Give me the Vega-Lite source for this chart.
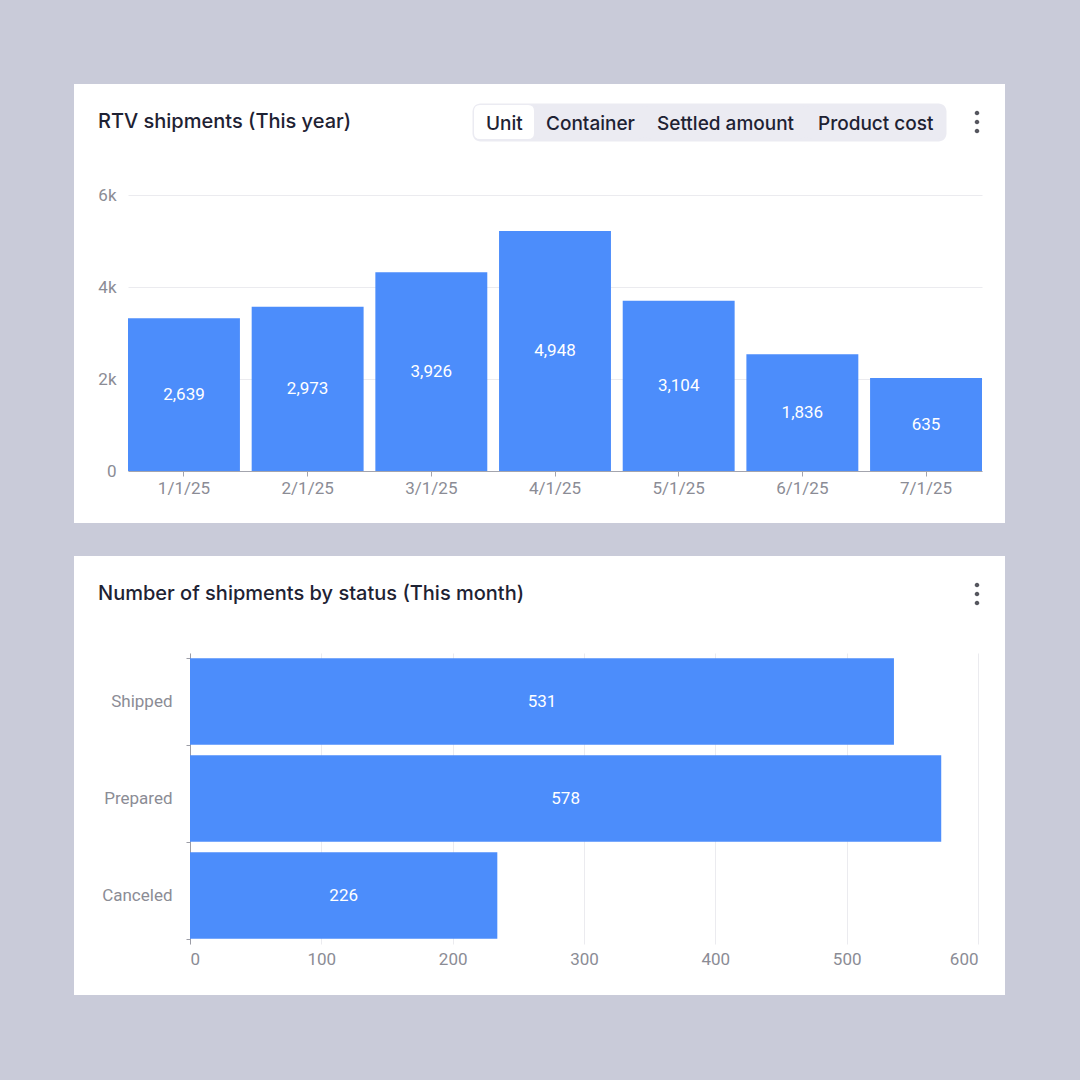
{
  "$schema": "https://vega.github.io/schema/vega-lite/v6.json",
  "background": "#c9cbd9",
  "padding": {"left": 74, "top": 84, "right": 75, "bottom": 85},
  "spacing": 24,
  "resolve": {"scale": {"shape": "independent", "fill": "independent"}, "legend": {"shape": "independent", "fill": "independent"}},
  "config": {
    "view": {"fill": "#ffffff", "stroke": null},
    "font": "Roboto",
    "title": {"font": "Inter", "fontSize": 20, "fontWeight": 500, "color": "#1e2233", "anchor": "start", "frame": "group", "baseline": "alphabetic", "offset": -48, "dx": 24},
    "axis": {"labelFont": "Roboto", "labelFontSize": 17, "labelColor": "#8b8c95"}
  },
  "vconcat": [
    {
      "width": 931,
      "height": 439,
      "view": {"fill": "#ffffff", "stroke": null},
      "title": "RTV shipments (This year)",
      "data": {"values": [
        {"month": "1/1/25", "value": 3320, "label": "2,639"},
        {"month": "2/1/25", "value": 3570, "label": "2,973"},
        {"month": "3/1/25", "value": 4320, "label": "3,926"},
        {"month": "4/1/25", "value": 5220, "label": "4,948"},
        {"month": "5/1/25", "value": 3700, "label": "3,104"},
        {"month": "6/1/25", "value": 2540, "label": "1,836"},
        {"month": "7/1/25", "value": 2020, "label": "635"}
      ]},
      "resolve": {"scale": {"y": "independent", "shape": "independent"}},
      "layer": [
        {
          "mark": {"type": "bar", "color": "#4c8dfb"},
          "encoding": {
            "x": {"field": "month", "type": "nominal", "sort": null, "title": null,
              "scale": {"range": [54, 908], "paddingInner": 0.095, "paddingOuter": 0},
              "axis": {"orient": "bottom", "offset": -52, "labelAngle": 0, "domainColor": "#a3a4ad", "tickColor": "#a3a4ad", "tickSize": 5, "labelPadding": 4, "grid": false}},
            "y": {"field": "value", "type": "quantitative", "title": null,
              "scale": {"domain": [0, 6000], "range": [387, 111], "nice": false},
              "axis": {"orient": "left", "offset": -54, "values": [0, 2000, 4000, 6000], "labelExpr": "datum.value === 0 ? '0' : (datum.value / 1000) + 'k'", "domain": false, "ticks": false, "tickSize": 0, "labelPadding": 12, "grid": true, "gridColor": "#ebebef"}}
          }
        },
        {
          "mark": {"type": "text", "color": "#ffffff", "fontSize": 17, "baseline": "middle"},
          "encoding": {
            "x": {"field": "month", "type": "nominal", "sort": null},
            "y": {"field": "value", "type": "quantitative", "scale": {"domain": [0, 12000], "range": [387, 111], "nice": false}, "axis": null},
            "text": {"field": "label"}
          }
        },
        {
          "data": {"values": [{"option": "Unit"}, {"option": "Container"}, {"option": "Settled amount"}, {"option": "Product cost"}]},
          "mark": {"type": "point", "filled": true, "size": 0},
          "encoding": {
            "fill": {"field": "option", "type": "nominal",
              "scale": {"domain": ["Unit", "Container", "Settled amount", "Product cost"], "range": ["#ffffff", "#ebebf2", "#ebebf2", "#ebebf2"]},
              "legend": null},
            "shape": {"field": "option", "type": "nominal",
              "scale": {"domain": ["Unit", "Container", "Settled amount", "Product cost"], "range": [
                "M-3.5,-9.5H44.5Q50.5,-9.5 50.5,-3.5V18.5Q50.5,24.5 44.5,24.5H-3.5Q-9.5,24.5 -9.5,18.5V-3.5Q-9.5,-9.5 -3.5,-9.5Z",
                "M-3.5,-9.5H95.5Q101.5,-9.5 101.5,-3.5V18.5Q101.5,24.5 95.5,24.5H-3.5Q-9.5,24.5 -9.5,18.5V-3.5Q-9.5,-9.5 -3.5,-9.5Z",
                "M-3.5,-9.5H145.5Q151.5,-9.5 151.5,-3.5V18.5Q151.5,24.5 145.5,24.5H-3.5Q-9.5,24.5 -9.5,18.5V-3.5Q-9.5,-9.5 -3.5,-9.5Z",
                "M-3.5,-9.5H122.5Q128.5,-9.5 128.5,-3.5V18.5Q128.5,24.5 122.5,24.5H-3.5Q-9.5,24.5 -9.5,18.5V-3.5Q-9.5,-9.5 -3.5,-9.5Z"]},
              "legend": {"orient": "none", "legendX": 398, "legendY": 19, "direction": "horizontal", "title": null, "padding": 2, "fillColor": "#ebebf2", "cornerRadius": 8, "strokeColor": "transparent", "symbolSize": 4, "symbolStrokeWidth": 0, "symbolStrokeColor": "transparent", "symbolFillColor": {"expr": "datum.value === 'Unit' ? '#ffffff' : '#ebebf2'"}, "symbolOpacity": 1, "labelOffset": -7, "labelBaseline": "top", "columnPadding": 0, "labelFont": "Inter", "labelFontSize": 19, "labelFontWeight": 500, "labelColor": "#1e2233", "labelLimit": 300}}
          }
        },
        {
          "data": {"values": [{"menu": "more"}]},
          "mark": {"type": "point", "filled": true, "size": 0, "color": "#55565e"},
          "encoding": {
            "shape": {"field": "menu", "type": "nominal",
              "scale": {"domain": ["more"], "range": ["M-2.3,-9A2.3,2.3,0,1,0,2.3,-9A2.3,2.3,0,1,0,-2.3,-9ZM-2.3,0A2.3,2.3,0,1,0,2.3,0A2.3,2.3,0,1,0,-2.3,0ZM-2.3,9A2.3,2.3,0,1,0,2.3,9A2.3,2.3,0,1,0,-2.3,9Z"]},
              "legend": {"orient": "none", "legendX": 902, "legendY": 37, "title": null, "padding": 0, "symbolSize": 4, "symbolStrokeWidth": 0, "symbolOpacity": 1, "labelExpr": "''", "labelFontSize": 1, "labelOffset": 0}}
          }
        }
      ]
    },
    {
      "width": 931,
      "height": 439,
      "view": {"fill": "#ffffff", "stroke": null},
      "title": {"text": "Number of shipments by status (This month)", "offset": -57},
      "data": {"values": [
        {"status": "Shipped", "value": 536, "label": "531"},
        {"status": "Prepared", "value": 572, "label": "578"},
        {"status": "Canceled", "value": 234, "label": "226"}
      ]},
      "resolve": {"scale": {"x": "independent"}},
      "layer": [
        {
          "mark": {"type": "bar", "color": "#4c8dfb"},
          "encoding": {
            "y": {"field": "status", "type": "nominal", "sort": null, "title": null,
              "scale": {"range": [97, 388], "paddingInner": 0.11, "paddingOuter": 0.055},
              "axis": {"orient": "left", "offset": -116, "domainColor": "#9c9da6", "tickColor": "#9c9da6", "tickSize": 4, "tickBand": "extent", "labelPadding": 14, "grid": false}},
            "x": {"field": "value", "type": "quantitative", "title": null,
              "scale": {"domain": [0, 600], "range": [116, 904], "nice": false},
              "axis": {"orient": "top", "offset": -388, "values": [0, 100, 200, 300, 400, 500, 600], "domain": false, "ticks": false, "tickSize": 0, "labelPadding": -7, "labelBaseline": "top", "grid": true, "gridColor": "#ebebef"}}
          }
        },
        {
          "mark": {"type": "text", "color": "#ffffff", "fontSize": 17, "baseline": "middle"},
          "encoding": {
            "y": {"field": "status", "type": "nominal", "sort": null},
            "x": {"field": "value", "type": "quantitative", "scale": {"domain": [0, 1200], "range": [116, 904], "nice": false}, "axis": null},
            "text": {"field": "label"}
          }
        },
        {
          "data": {"values": [{"menu": "more"}]},
          "mark": {"type": "point", "filled": true, "size": 0, "color": "#55565e"},
          "encoding": {
            "shape": {"field": "menu", "type": "nominal",
              "scale": {"domain": ["more"], "range": ["M-2.3,-9A2.3,2.3,0,1,0,2.3,-9A2.3,2.3,0,1,0,-2.3,-9ZM-2.3,0A2.3,2.3,0,1,0,2.3,0A2.3,2.3,0,1,0,-2.3,0ZM-2.3,9A2.3,2.3,0,1,0,2.3,9A2.3,2.3,0,1,0,-2.3,9Z"]},
              "legend": {"orient": "none", "legendX": 902, "legendY": 37, "title": null, "padding": 0, "symbolSize": 4, "symbolStrokeWidth": 0, "symbolOpacity": 1, "labelExpr": "''", "labelFontSize": 1, "labelOffset": 0}}
          }
        }
      ]
    }
  ]
}
